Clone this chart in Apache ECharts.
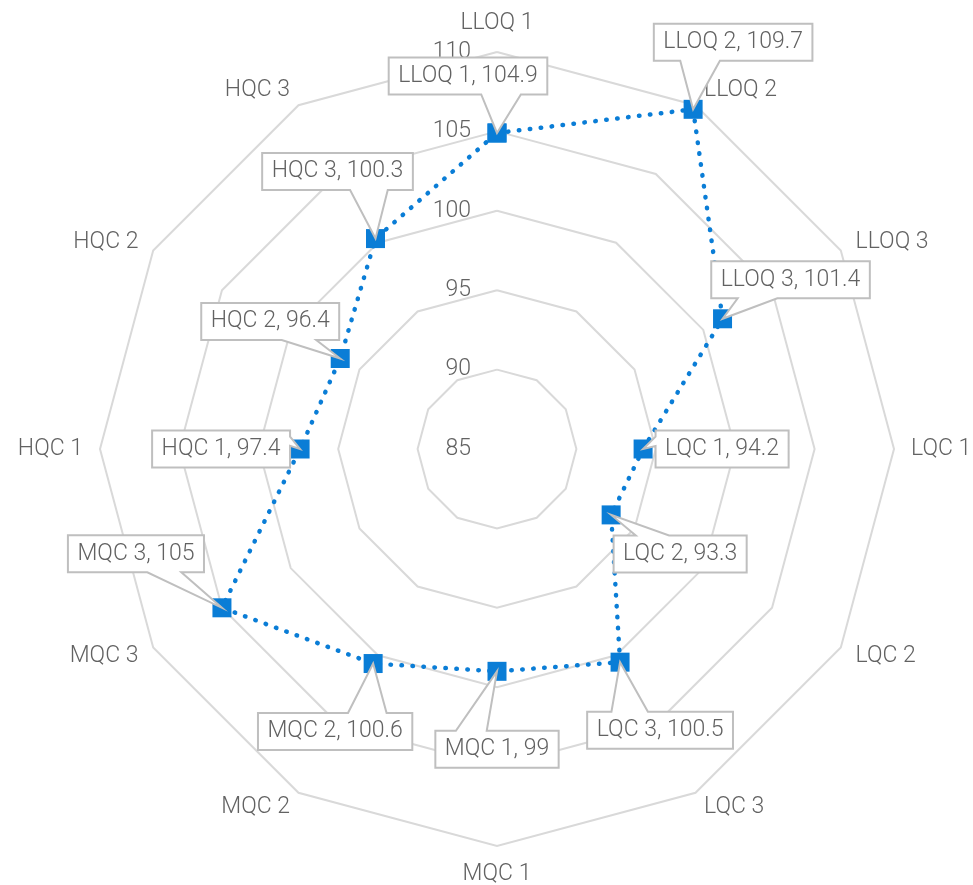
<!DOCTYPE html>
<html><head><meta charset="utf-8">
<script src="https://cdn.jsdelivr.net/npm/echarts@6/dist/echarts.min.js"></script>
<style>html,body{margin:0;padding:0;background:#fff}#c{width:973px;height:885px}</style>
</head><body><div id="c"></div>
<script>
// ---- data ----
const categories = ['LLOQ 1','LLOQ 2','LLOQ 3','LQC 1','LQC 2','LQC 3','MQC 1','MQC 2','MQC 3','HQC 1','HQC 2','HQC 3'];
const values = [104.9, 109.7, 101.4, 94.2, 93.3, 100.5, 99, 100.6, 105, 97.4, 96.4, 100.3];
const axisMin = 85;
const axisMax = 110;
const axisStep = 5;

// ---- layout (label box centre offsets relative to each point, px) ----
const labelOffsets = [[-29,-57],[40,-67],[68,-39],[79,0],[69,39],[40,68],[0,78],[-38,68],[-86,-54],[-79,0],[-70,-37],[-38,-67]];

const FONT_FAMILY = 'Roboto';
const FONT_SIZE = 23;
const FONT_WEIGHT = 300;
const TEXT_COLOR = '#626262';
const BLUE = '#0a7dd6';
const GRID = '#d9d9d9';
const CX = 497, CY = 449, R = 397;

const measureCtx = document.createElement('canvas').getContext('2d');
measureCtx.font = FONT_WEIGHT + ' ' + FONT_SIZE + 'px ' + FONT_FAMILY;
function textWidth(s){ return measureCtx.measureText(s).width; }

function calloutPoints(px, py, cx, cy, w, h){
  const l = cx - w/2, t = cy - h/2, r = cx + w/2, b = cy + h/2;
  const dx = px - cx, dy = py - cy;
  const dq = dx * h / w;
  const dz = Math.abs(dy) - Math.abs(dq);
  const x1 = l + w * (dx > 0 ? 7 : 2) / 12, x2 = l + w * (dx > 0 ? 10 : 5) / 12;
  const y1 = t + h * (dy > 0 ? 7 : 2) / 12, y2 = t + h * (dy > 0 ? 10 : 5) / 12;
  if (dz > 0) {
    if (dy > 0) return [[l,t],[r,t],[r,b],[x2,b],[px,py],[x1,b],[l,b]];
    return [[l,t],[x1,t],[px,py],[x2,t],[r,t],[r,b],[l,b]];
  }
  if (dx > 0) return [[l,t],[r,t],[r,y1],[px,py],[r,y2],[r,b],[l,b]];
  return [[l,t],[r,t],[r,b],[l,b],[l,y2],[px,py],[l,y1]];
}

const n = categories.length;
const indicatorOrder = [0].concat(categories.map((_, i) => i).slice(1).reverse());

const chart = echarts.init(document.getElementById('c'), null, {renderer: 'canvas'});
chart.setOption({
  animation: false,
  backgroundColor: '#fff',
  textStyle: {fontFamily: FONT_FAMILY, fontWeight: FONT_WEIGHT},
  radar: {
    center: [CX, CY],
    radius: R,
    startAngle: 90,
    shape: 'polygon',
    splitNumber: (axisMax - axisMin) / axisStep,
    nameGap: 17,
    indicator: indicatorOrder.map(i => ({name: categories[i], min: axisMin, max: axisMax})),
    axisName: {color: TEXT_COLOR, fontSize: FONT_SIZE, fontFamily: FONT_FAMILY, fontWeight: FONT_WEIGHT},
    axisLine: {show: false},
    axisTick: {show: false},
    axisLabel: {show: false},
    splitLine: {lineStyle: {color: GRID, width: 2}},
    splitArea: {show: false}
  },
  polar: {center: [CX, CY], radius: [0, R]},
  angleAxis: {
    type: 'value', min: 0, max: n, startAngle: 90, clockwise: true,
    axisLine: {show: false}, axisTick: {show: false}, axisLabel: {show: false}, splitLine: {show: false}
  },
  radiusAxis: {
    type: 'value', min: axisMin, max: axisMax, interval: axisStep,
    axisLine: {show: false}, axisTick: {show: false}, splitLine: {show: false},
    axisLabel: {color: TEXT_COLOR, fontSize: FONT_SIZE, fontFamily: FONT_FAMILY, fontWeight: FONT_WEIGHT, margin: 26}
  },
  series: [
    {
      type: 'line',
      coordinateSystem: 'polar',
      z: 5,
      data: values.concat([values[0]]).map((v, i) => [v, i]),
      symbol: 'rect',
      symbolSize: 19,
      showAllSymbol: true,
      itemStyle: {color: BLUE},
      lineStyle: {color: BLUE, width: 4.5, type: [0.5, 10.5], cap: 'round'}
    },
    {
      type: 'custom',
      coordinateSystem: 'polar',
      z: 10,
      encode: {radius: 0, angle: 1},
      data: values.map((v, i) => [v, i]),
      renderItem: function (params, api) {
        const i = params.dataIndex;
        const p = api.coord([api.value(0), api.value(1)]);
        const text = categories[i] + ', ' + values[i];
        const w = textWidth(text) + 19, h = 37;
        const cx = p[0] + labelOffsets[i][0], cy = p[1] + labelOffsets[i][1];
        return {
          type: 'group',
          children: [
            {type: 'polygon', shape: {points: calloutPoints(p[0], p[1], cx, cy, w, h)},
             style: {fill: '#fff', stroke: '#bfbfbf', lineWidth: 2}},
            {type: 'text', x: cx, y: cy,
             style: {text: text, fill: TEXT_COLOR, fontSize: FONT_SIZE, fontFamily: FONT_FAMILY, fontWeight: FONT_WEIGHT, align: 'center', verticalAlign: 'middle'}}
          ]
        };
      }
    }
  ]
});
</script>
</body></html>
